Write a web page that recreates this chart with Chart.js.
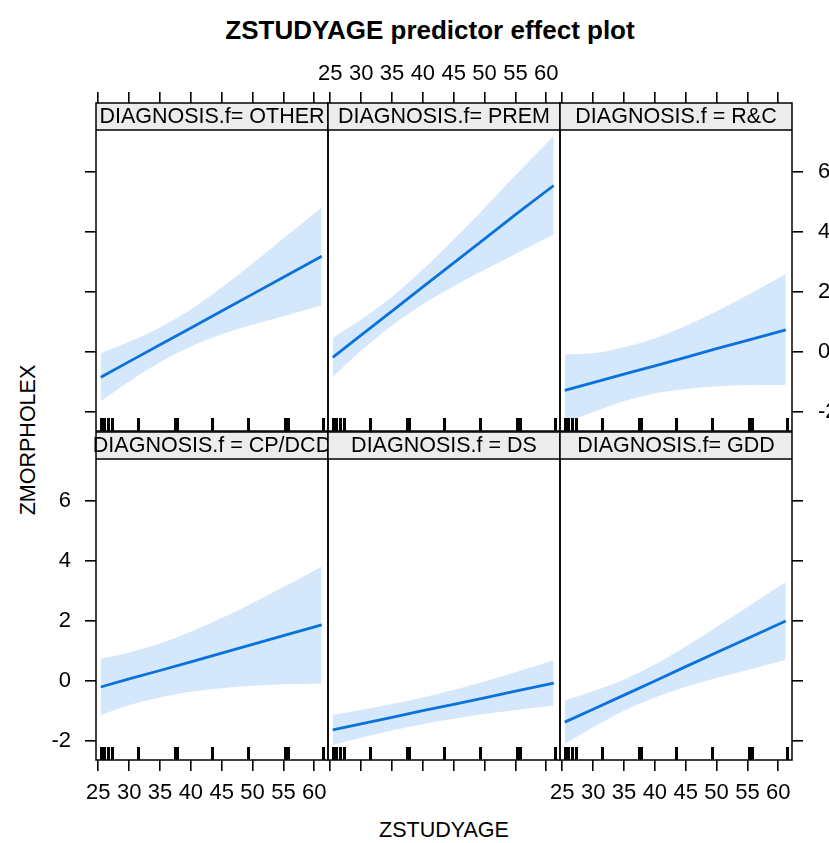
<!DOCTYPE html>
<html><head><meta charset="utf-8">
<script src="https://cdn.jsdelivr.net/npm/chart.js@4.4.1/dist/chart.umd.min.js"></script>
<style>
html,body{margin:0;padding:0;background:#fff;overflow:hidden;}
#wrap{position:relative;width:829px;height:843px;overflow:hidden;background:#fff;font-family:'Liberation Sans',Arial,sans-serif;}
canvas{position:absolute;}
.t{position:absolute;color:#000;white-space:nowrap;}
</style></head><body><div id="wrap">
<div class="t" style="left:430px;top:14px;transform:translateX(-50%);font-size:26px;font-weight:bold;line-height:32px;">ZSTUDYAGE predictor effect plot</div>
<div class="t" style="left:444px;top:817px;transform:translateX(-50%);font-size:21.5px;line-height:26px;">ZSTUDYAGE</div>
<div class="t" style="left:28px;top:440px;transform:translate(-50%,-50%) rotate(-90deg);font-size:21.5px;line-height:26px;">ZMORPHOLEX</div>
</div>
<script>
// ---- data ----
const xValues = [25.4, 30, 35, 40, 45, 50, 55, 61.2];

const fitOTHER   = [-0.84, -0.32, 0.24, 0.80, 1.37, 1.93, 2.49, 3.19];
const upperOTHER = [-0.04, 0.34, 0.82, 1.42, 2.15, 2.95, 3.79, 4.82];
const lowerOTHER = [-1.64, -0.98, -0.34, 0.18, 0.59, 0.91, 1.19, 1.56];

const fitPREM   = [-0.18, 0.56, 1.36, 2.17, 2.97, 3.77, 4.58, 5.55];
const upperPREM = [0.47, 1.08, 1.84, 2.75, 3.75, 4.80, 5.89, 7.20];
const lowerPREM = [-0.83, 0.04, 0.88, 1.59, 2.19, 2.74, 3.27, 3.92];

const fitRC   = [-1.28, -1.02, -0.74, -0.46, -0.18, 0.11, 0.39, 0.74];
const upperRC = [-0.08, -0.04, 0.16, 0.46, 0.87, 1.36, 1.89, 2.60];
const lowerRC = [-2.36, -2.00, -1.64, -1.38, -1.23, -1.14, -1.11, -1.10];

const fitCP   = [-0.20, 0.07, 0.35, 0.64, 0.93, 1.22, 1.51, 1.87];
const upperCP = [0.74, 0.95, 1.25, 1.64, 2.10, 2.60, 3.13, 3.82];
const lowerCP = [-1.14, -0.81, -0.55, -0.36, -0.24, -0.16, -0.11, -0.08];

const fitDS   = [-1.63, -1.43, -1.21, -0.99, -0.78, -0.56, -0.34, -0.07];
const upperDS = [-1.13, -0.97, -0.77, -0.55, -0.30, -0.02, 0.29, 0.68];
const lowerDS = [-2.13, -1.89, -1.65, -1.43, -1.26, -1.10, -0.97, -0.82];

const fitGDD   = [-1.37, -0.94, -0.47, 0.00, 0.48, 0.95, 1.42, 2.00];
const upperGDD = [-0.65, -0.34, 0.05, 0.55, 1.15, 1.80, 2.47, 3.30];
const lowerGDD = [-2.09, -1.54, -0.99, -0.55, -0.19, 0.10, 0.37, 0.70];

const rugAges = [25.4, 25.9, 26.5, 27.2, 31.4, 37.4, 37.6, 37.8, 43.4, 49.3, 55.2, 55.45, 55.7, 61.4];

const xTickValues = [25, 30, 35, 40, 45, 50, 55, 60];
const yTickValues = [-2, 0, 2, 4, 6];

const stripLabels = ['DIAGNOSIS.f= OTHER', 'DIAGNOSIS.f= PREM', 'DIAGNOSIS.f = R&C',
                     'DIAGNOSIS.f = CP/DCD', 'DIAGNOSIS.f = DS', 'DIAGNOSIS.f= GDD'];

// ---- layout / style ----
const X_MIN = 24.63, X_MAX = 62.22;
const Y_MIN = -2.633, Y_MAX = 8.3;
const colLeft = [96, 328, 560];
const rowTop = [103, 432];
const PW = 232, PH = 328, STRIP_H = 27, RUG_LEN = 13;
const ML = 60, MR = 60, MT = 55, MB = 55;
const LINE = '#0a72dc', BAND = 'rgb(213,231,250)', STRIP_BG = '#ececec';
const FONT = "'Liberation Sans', Arial, sans-serif";

const panels = [
  {fit: fitOTHER, upper: upperOTHER, lower: lowerOTHER, row: 0, col: 0},
  {fit: fitPREM,  upper: upperPREM,  lower: lowerPREM,  row: 0, col: 1},
  {fit: fitRC,    upper: upperRC,    lower: lowerRC,    row: 0, col: 2},
  {fit: fitCP,    upper: upperCP,    lower: lowerCP,    row: 1, col: 0},
  {fit: fitDS,    upper: upperDS,    lower: lowerDS,    row: 1, col: 1},
  {fit: fitGDD,   upper: upperGDD,   lower: lowerGDD,   row: 1, col: 2}
];

const toPts = ys => xValues.map((x, i) => ({x: x, y: ys[i]}));

const panelDeco = {
  id: 'panelDeco',
  afterDatasetsDraw(chart, args, o) {
    const {ctx, chartArea: a, scales} = chart;
    ctx.save();
    ctx.fillStyle = '#000';
    for (let k = 0; k < rugAges.length; k++) {
      const px = Math.round(scales.x.getPixelForValue(rugAges[k]));
      ctx.fillRect(px - 1, Math.round(a.bottom) - RUG_LEN, 3, RUG_LEN);
    }
    ctx.fillStyle = STRIP_BG;
    ctx.fillRect(a.left, a.top, a.right - a.left, STRIP_H);
    ctx.strokeStyle = '#000';
    ctx.lineWidth = 1.5;
    ctx.beginPath(); ctx.moveTo(a.left, a.top + STRIP_H); ctx.lineTo(a.right, a.top + STRIP_H); ctx.stroke();
    ctx.fillStyle = '#000';
    ctx.font = '21.5px ' + FONT;
    ctx.textAlign = 'center'; ctx.textBaseline = 'middle';
    ctx.fillText(o.label, (a.left + a.right) / 2, a.top + STRIP_H / 2 + 1);
    ctx.strokeRect(a.left, a.top, a.right - a.left, a.bottom - a.top);
    ctx.restore();
  }
};

function axis(kind, position, marks, labels, pad) {
  const isX = kind === 'x';
  return {
    type: 'linear', position: position,
    min: isX ? X_MIN : Y_MIN, max: isX ? X_MAX : Y_MAX,
    afterBuildTicks: s => { s.ticks = (isX ? xTickValues : yTickValues).map(v => ({value: v})); },
    afterFit: s => {
      if (isX) s.height = position === 'top' ? MT : MB;
      else s.width = position === 'left' ? ML : MR;
    },
    border: {display: false},
    grid: {drawOnChartArea: false, drawTicks: marks, tickLength: 11, color: '#000', lineWidth: 1.6},
    ticks: {display: labels, color: '#000', padding: pad, maxRotation: 0, autoSkip: false,
            font: {family: FONT, size: 22}, callback: v => String(v)}
  };
}

const wrap = document.getElementById('wrap');
panels.forEach((p, i) => {
  const cv = document.createElement('canvas');
  const W = ML + PW + MR, H = MT + PH + MB;
  cv.width = W; cv.height = H;
  cv.style.width = W + 'px'; cv.style.height = H + 'px';
  cv.style.left = (colLeft[p.col] - ML) + 'px';
  cv.style.top = (rowTop[p.row] - MT) + 'px';
  wrap.appendChild(cv);
  const r = p.row, c = p.col;
  new Chart(cv, {
    type: 'line',
    data: {
      datasets: [
        {data: toPts(p.fit), borderColor: LINE, borderWidth: 2.8, pointRadius: 0, fill: false, order: 0, tension: 0},
        {data: toPts(p.upper), borderColor: 'rgba(0,0,0,0)', borderWidth: 0, pointRadius: 0,
         fill: '+1', backgroundColor: BAND, order: 1, cubicInterpolationMode: 'monotone'},
        {data: toPts(p.lower), borderColor: 'rgba(0,0,0,0)', borderWidth: 0, pointRadius: 0,
         fill: false, order: 2, cubicInterpolationMode: 'monotone'}
      ]
    },
    options: {
      responsive: false, animation: false, devicePixelRatio: 1, events: [],
      layout: {padding: 0},
      plugins: {legend: {display: false}, tooltip: {enabled: false}, panelDeco: {label: stripLabels[i]}},
      scales: {
        x:  axis('x', 'bottom', r === 1, r === 1 && c !== 1, 9),
        x2: axis('x', 'top',    r === 0, r === 0 && c === 1, 5),
        y:  axis('y', 'left',   c === 0, c === 0 && r === 1, 14),
        y2: axis('y', 'right',  c === 2, c === 2 && r === 0, 15)
      }
    },
    plugins: [panelDeco]
  });
});
</script>
</body></html>
